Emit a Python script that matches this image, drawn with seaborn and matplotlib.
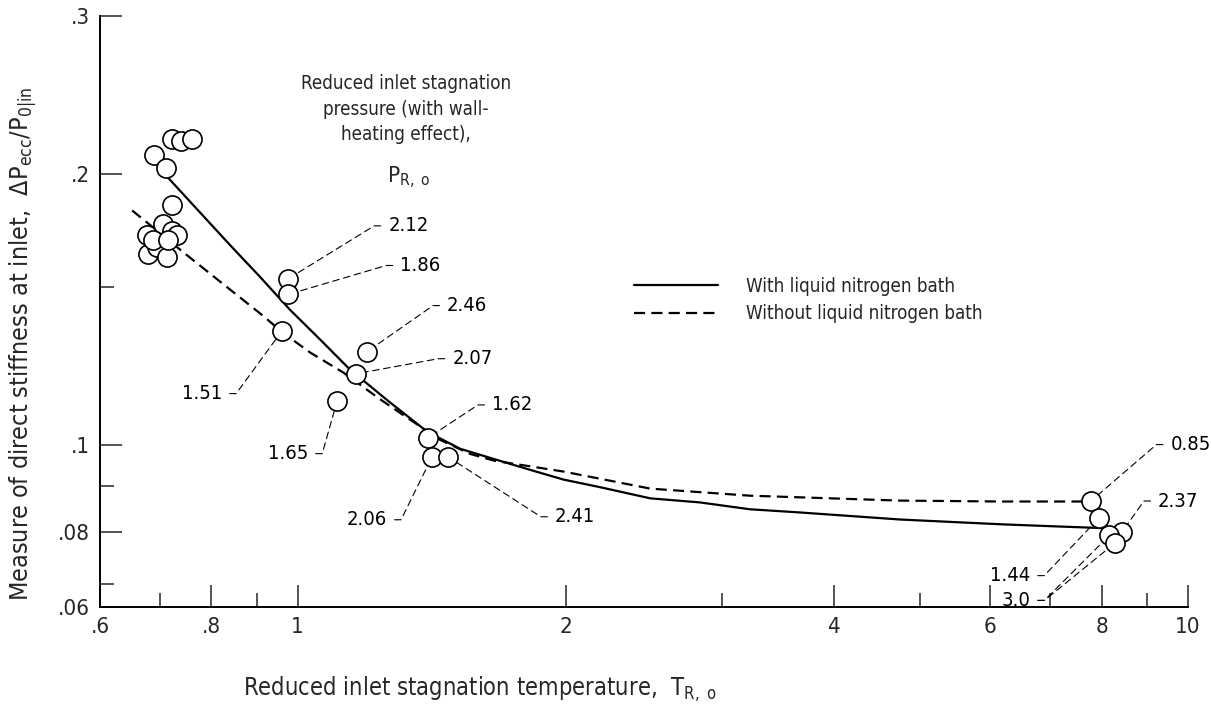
import numpy as np
import pandas as pd
import matplotlib
matplotlib.use("Agg")
import matplotlib.pyplot as plt
import matplotlib.ticker as mticker
import seaborn as sns

# ── Data ─────────────────────────────────────────────────────────────────────
# unlabelled points of the low-temperature cluster
cluster_T = [0.690, 0.712, 0.723, 0.740, 0.761, 0.723,
             0.677, 0.706, 0.723, 0.732, 0.679, 0.695, 0.714, 0.688, 0.716]
cluster_S = [0.210, 0.203, 0.219, 0.218, 0.219, 0.185,
             0.171, 0.176, 0.173, 0.171, 0.163, 0.166, 0.162, 0.169, 0.169]

# labelled points, label = reduced inlet stagnation pressure P_R,o
labelled_T = [0.976, 0.976, 0.961, 1.197, 1.164, 1.108, 1.401, 1.416, 1.475,
              7.79, 7.95, 8.43, 8.16, 8.27]
labelled_S = [0.153, 0.147, 0.134, 0.127, 0.120, 0.112, 0.1018, 0.097, 0.097,
              0.0867, 0.083, 0.080, 0.0793, 0.0777]
labelled_P = ["2.12", "1.86", "1.51", "2.46", "2.07", "1.65", "1.62", "2.06", "2.41",
              "0.85", "1.44", "2.37", "3.0", "3.0"]

# faired curves
with_ln2_T = [0.713, 0.777, 0.840, 0.908, 0.981, 1.060, 1.145, 1.270, 1.399, 1.523,
              1.659, 1.825, 1.989, 2.19, 2.49, 2.83, 3.22, 3.67, 4.75, 6.16, 7.01, 8.03]
with_ln2_S = [0.199, 0.1814, 0.1668, 0.1537, 0.1413, 0.1310, 0.1213, 0.1115, 0.1034, 0.0990,
              0.0965, 0.0938, 0.0915, 0.0897, 0.0872, 0.0863, 0.0848, 0.0841, 0.0826, 0.0816,
              0.0812, 0.0808]
without_ln2_T = [0.652, 0.701, 0.743, 0.818, 0.908, 0.963, 1.033, 1.125, 1.238, 1.315,
                 1.446, 1.563, 1.665, 1.989, 2.49, 3.22, 4.75, 6.16, 7.68]
without_ln2_S = [0.1823, 0.1720, 0.1640, 0.1520, 0.1400, 0.1333, 0.1267, 0.1204, 0.1124, 0.1079,
                 0.1013, 0.0977, 0.0960, 0.0934, 0.0894, 0.0878, 0.0867, 0.0865, 0.0865]

x_major = [0.6, 0.8, 1, 2, 4, 6, 8, 10]
x_major_labels = [".6", ".8", "1", "2", "4", "6", "8", "10"]
x_minor = [0.7, 0.9, 3, 5, 7, 9]
y_major = [0.06, 0.08, 0.1, 0.2, 0.3]
y_major_labels = [".06", ".08", ".1", ".2", ".3"]
y_minor = [0.07, 0.09, 0.15]

# ── Layout: where each point label sits (pixels from the point) ──────────────
label_offsets = [(100, 53), (112, 29), (-60, -63), (80, 46), (96, 15), (-29, -53),
                 (64, 33), (-45, -63), (107, -60),
                 (79, 56), (-69, -58), (36, 31), (-79, -65), (-84, -57)]

# the original y axis is logarithmic, but the last step (.07 -> .06)
# is drawn squeezed; mimic that with a function scale
Y_KNEE = np.log10(0.07)
Y_SQUEEZE = 0.38


def y_fwd(v):
    lv = np.log10(np.clip(v, 1e-9, None))
    return np.where(lv >= Y_KNEE, lv, Y_KNEE + (lv - Y_KNEE) * Y_SQUEEZE)


def y_inv(u):
    u = np.asarray(u, dtype=float)
    return np.where(u >= Y_KNEE, 10 ** u, 10 ** (Y_KNEE + (u - Y_KNEE) / Y_SQUEEZE))


# ── Style ────────────────────────────────────────────────────────────────────
sns.set_theme(style="ticks")
plt.rcParams["font.family"] = ["DejaVu Sans"]
plt.rcParams["font.stretch"] = "condensed"
plt.rcParams["mathtext.default"] = "regular"

fig = plt.figure(figsize=(12.11, 7.21), dpi=100)
ax = fig.add_axes([100 / 1211, 114 / 721, 1088 / 1211, 591 / 721])
ax.set_xscale("log")
ax.set_yscale("function", functions=(y_fwd, y_inv))

# curves
sns.lineplot(x=with_ln2_T, y=with_ln2_S, ax=ax, color="black", lw=1.6,
             estimator=None, label="With liquid nitrogen bath")
sns.lineplot(x=without_ln2_T, y=without_ln2_S, ax=ax, color="black", lw=1.6,
             linestyle=(0, (5, 2.8)), estimator=None,
             label="Without liquid nitrogen bath")

# points
pts = pd.DataFrame({"T": cluster_T + labelled_T, "S": cluster_S + labelled_S})
sns.scatterplot(data=pts, x="T", y="S", ax=ax, s=190, marker="o",
                facecolor="white", edgecolor="black", linewidth=1.2, zorder=3)

# point labels with dashed leaders
seen = set()
for t, s, p, (dx, dy) in zip(labelled_T, labelled_S, labelled_P, label_offsets):
    right = dx > 0
    # 3.0 has two leaders: the second one only draws its line
    colour = "none" if p in seen else "black"
    seen.add(p)
    ax.annotate(p, xy=(t, s), xytext=(dx, dy), textcoords="offset pixels",
                ha="left" if right else "right", va="center", fontsize=14.5, color=colour,
                arrowprops=dict(arrowstyle="-", lw=0.8, color="black",
                                linestyle=(0, (6, 4)),
                                relpos=(0, 0.5) if right else (1, 0.5),
                                connectionstyle="arc,angleA=%d,angleB=0,armA=14,armB=0,rad=0"
                                                % (180 if right else 0),
                                shrinkA=3, shrinkB=7))

# note on the labels
ax.text(0.281, 0.902, "Reduced inlet stagnation\npressure (with wall-\nheating effect),",
        transform=ax.transAxes, ha="center", va="top", fontsize=13.5, linespacing=1.45)
ax.text(0.284, 0.726, r"P$_{R,\ o}$", transform=ax.transAxes, ha="center",
        va="center", fontsize=16)

# axes
ax.set_xlim(0.6, 10)
ax.set_ylim(0.06, 0.3)
ax.xaxis.set_major_locator(mticker.FixedLocator(x_major))
ax.xaxis.set_major_formatter(mticker.FixedFormatter(x_major_labels))
ax.xaxis.set_minor_locator(mticker.FixedLocator(x_minor))
ax.xaxis.set_minor_formatter(mticker.NullFormatter())
ax.yaxis.set_major_locator(mticker.FixedLocator(y_major))
ax.yaxis.set_major_formatter(mticker.FixedFormatter(y_major_labels))
ax.yaxis.set_minor_locator(mticker.FixedLocator(y_minor))
ax.yaxis.set_minor_formatter(mticker.NullFormatter())
ax.tick_params(which="major", direction="in", length=16, width=1.1, labelsize=16, pad=7)
ax.tick_params(which="minor", direction="in", length=10, width=1.1)
sns.despine(ax=ax)
for sp in ("left", "bottom"):
    ax.spines[sp].set_linewidth(1.4)
    ax.spines[sp].set_color("black")

ax.set_xlabel(r"Reduced inlet stagnation temperature,  T$_{R,\ o}$", fontsize=17)
ax.xaxis.set_label_coords(0.349, -0.115)
ax.set_ylabel(r"Measure of direct stiffness at inlet,  ΔP$_{ecc}$/P$_{0|in}$", fontsize=18)
ax.yaxis.set_label_coords(-0.057, 0.445)

ax.legend(loc="upper left", bbox_to_anchor=(0.475, 0.587), frameon=False, fontsize=13.5,
          handlelength=4.5, handletextpad=1.5, labelspacing=0.45)

fig.savefig("out.png", dpi=100)
